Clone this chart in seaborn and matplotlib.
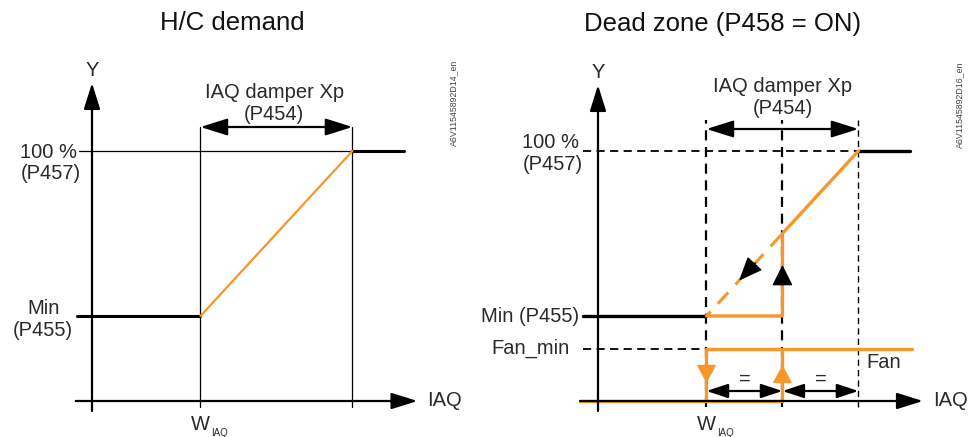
import numpy as np
import pandas as pd
import matplotlib
matplotlib.use("Agg")
import matplotlib.pyplot as plt
import seaborn as sns

# Control parameters: IAQ axis in relative units, output in %
W_IAQ = 1.0        # IAQ setpoint
XP = 1.4           # IAQ damper proportional band (P454)
Y_MIN = 34         # minimum damper position (P455)
Y_MAX = 100        # maximum damper position (P457)
FAN_MIN = 21       # fan minimum output
FAN_OFF = 0        # fan off

panel_titles = ["H/C demand", "Dead zone (P458 = ON)"]
doc_codes = ["A6V11545892D14_en", "A6V11545892D16_en"]
label_max = ["100 %", "(P457)"]
label_min = ["Min", "(P455)"]
label_xp = ["IAQ damper Xp", "(P454)"]

ORANGE = "#f7962b"
TXT = "#2a2a2a"
FS = 14.5

sns.set_theme(style="white")
plt.rcParams["font.family"] = ["Liberation Sans", "DejaVu Sans"]

fig = plt.figure(figsize=(9.79, 4.37), dpi=100)
axL = fig.add_axes([0, 0, 480 / 979, 1])
axR = fig.add_axes([480 / 979, 0, 499 / 979, 1])
UX, UY = 108.5, 2.5   # pixels per unit
axL.set_xlim(-92 / UX, (480 - 92) / UX)
axR.set_xlim(-118 / UX, (499 - 118) / UX)
for ax in (axL, axR):
    ax.set_ylim(-36 / UY, 401 / UY)
    ax.set_axis_off()


def arrow(ax, start, tip, color="black", hl=1.6, hw=0.5, lw=1.5, style="-|>", z=5):
    ax.annotate("", xy=tip, xytext=start, zorder=z,
                arrowprops=dict(arrowstyle=f"{style},head_length={hl},head_width={hw}",
                                color=color, lw=lw, shrinkA=0, shrinkB=0,
                                mutation_scale=10))


def line(ax, xs, ys, color="black", lw=1.0, ls="-", z=2):
    df = pd.DataFrame({"x": xs, "y": ys})
    sns.lineplot(data=df, x="x", y="y", ax=ax, color=color, lw=lw, ls=ls,
                 sort=False, estimator=None, zorder=z, legend=False)
    ax.set_xlabel("")
    ax.set_ylabel("")


def axes_frame(ax, x_start, x_tip, y_tip):
    arrow(ax, (0, -4), (0, y_tip), hl=1.6, hw=0.5, lw=1.6)
    arrow(ax, (x_start, 0), (x_tip, 0), hl=1.6, hw=0.5, lw=1.6)
    ax.text(0, y_tip + 5, "Y", ha="center", va="center", fontsize=FS, color=TXT)
    ax.text(x_tip + 0.09, 0, "IAQ", ha="left", va="center", fontsize=FS, color=TXT)
    ax.text(W_IAQ, -9.6, "W", ha="center", va="center", fontsize=FS, color=TXT)
    ax.text(W_IAQ + 0.1, -12.6, "IAQ", ha="left", va="center", fontsize=7, color=TXT)


X_END = W_IAQ + XP
X_MID = W_IAQ + XP / 2
Y_MID = Y_MIN + (Y_MAX - Y_MIN) / 2

# ---------------- H/C demand ----------------
ax = axL
ax.text(1.29, 151, panel_titles[0], ha="center", va="center", fontsize=18.5, color="#111111")
axes_frame(ax, -0.15, 3.0, 127.2)
for u in (W_IAQ, X_END):
    line(ax, [u, u], [-2.4, 109.6], lw=0.9)
line(ax, [-0.12, X_END], [Y_MAX, Y_MAX], lw=0.9)
line(ax, [-0.14, W_IAQ], [Y_MIN, Y_MIN], lw=2.2, z=3)
line(ax, [X_END, 2.876], [Y_MAX, Y_MAX], lw=2.2, z=3)
line(ax, [W_IAQ, X_END], [Y_MIN, Y_MAX], color=ORANGE, lw=1.6, z=4)
arrow(ax, (W_IAQ, 109.6), (X_END, 109.6), style="<|-|>", hl=1.65, hw=0.52, lw=1.6)
ax.text(X_MID - 0.02, 123.4, label_xp[0], ha="center", va="center", fontsize=FS, color=TXT)
ax.text(X_MID - 0.02, 114.6, label_xp[1], ha="center", va="center", fontsize=FS, color=TXT)
ax.text(-0.40, 99.2, label_max[0], ha="center", va="center", fontsize=FS, color=TXT)
ax.text(-0.38, 91.0, label_max[1], ha="center", va="center", fontsize=FS, color=TXT)
ax.text(-0.45, 36.8, label_min[0], ha="center", va="center", fontsize=FS, color=TXT)
ax.text(-0.45, 28.0, label_min[1], ha="center", va="center", fontsize=FS, color=TXT)
ax.text(3.336, 119.2, doc_codes[0], rotation=90, ha="center", va="center", fontsize=6.3, color="#444444")

# ---------------- Dead zone ----------------
ax = axR
ax.text(1.152, 151, panel_titles[1], ha="center", va="center", fontsize=18.5, color="#111111")
axes_frame(ax, -0.166, 2.995, 126.4)
dash = (0, (4.5, 3))
for u, w in ((W_IAQ, 1.6), (X_MID, 1.6), (X_END, 1.0)):
    line(ax, [u, u], [-2.4, 112.4], lw=w, ls=dash)
line(ax, [-0.14, X_END], [Y_MAX, Y_MAX], lw=1.3, ls=dash)
line(ax, [-0.14, W_IAQ], [FAN_MIN, FAN_MIN], lw=1.3, ls=dash)
line(ax, [-0.14, W_IAQ], [Y_MIN, Y_MIN], lw=2.4, z=3)
line(ax, [X_END, 2.876], [Y_MAX, Y_MAX], lw=2.4, z=3)

# damper with dead zone
line(ax, [W_IAQ, X_MID, X_MID, X_END], [Y_MIN, Y_MIN, Y_MID, Y_MAX], color=ORANGE, lw=2.4, z=4)
line(ax, [W_IAQ, X_MID], [Y_MIN, Y_MID], color=ORANGE, lw=2.2, ls=(3, (5, 3.5)), z=4)
# fan: off below the dead zone, on at FAN_MIN above it, with hysteresis
line(ax, [-0.166, X_MID, X_MID], [FAN_OFF, FAN_OFF, FAN_MIN], color=ORANGE, lw=2.4, z=4)
line(ax, [W_IAQ, W_IAQ, 2.894], [FAN_OFF, FAN_MIN, FAN_MIN], color=ORANGE, lw=2.4, z=4)

# direction arrows
arrow(ax, (W_IAQ, 14.0), (W_IAQ, 7.2), color=ORANGE, hl=1.15, hw=0.62, lw=1.0, z=6)
arrow(ax, (X_MID, 7.4), (X_MID, 14.4), color=ORANGE, hl=1.15, hw=0.62, lw=1.0, z=6)
arrow(ax, (X_MID, 46.4), (X_MID, 54.4), hl=1.3, hw=0.65, lw=1.0, z=6)
slope = (Y_MAX - Y_MIN) / XP
u_tip = 1.3
arrow(ax, (u_tip + 0.15, Y_MIN + (u_tip + 0.15 - W_IAQ) * slope),
      (u_tip, Y_MIN + (u_tip - W_IAQ) * slope), hl=1.5, hw=0.62, lw=1.0, z=6)

# spans
arrow(ax, (W_IAQ, 108.8), (X_END, 108.8), style="<|-|>", hl=1.65, hw=0.52, lw=1.6)
arrow(ax, (W_IAQ, 4.0), (X_MID, 4.0), style="<|-|>", hl=1.3, hw=0.43, lw=1.6)
arrow(ax, (X_MID, 4.0), (X_END, 4.0), style="<|-|>", hl=1.3, hw=0.43, lw=1.6)
ax.text((W_IAQ + X_MID) / 2, 8.8, "=", ha="center", va="center", fontsize=FS, color=TXT)
ax.text((X_MID + X_END) / 2, 8.8, "=", ha="center", va="center", fontsize=FS, color=TXT)

ax.text(X_MID, 125.6, label_xp[0], ha="center", va="center", fontsize=FS, color=TXT)
ax.text(X_MID, 117.2, label_xp[1], ha="center", va="center", fontsize=FS, color=TXT)
ax.text(-0.44, 103.2, label_max[0], ha="center", va="center", fontsize=FS, color=TXT)
ax.text(-0.42, 94.4, label_max[1], ha="center", va="center", fontsize=FS, color=TXT)
ax.text(-0.175, Y_MIN, " ".join(label_min), ha="right", va="center", fontsize=FS, color=TXT)
ax.text(-0.258, FAN_MIN, "Fan_min", ha="right", va="center", fontsize=FS, color=TXT)
ax.text(2.47, 15.2, "Fan", ha="left", va="center", fontsize=FS, color=TXT)
ax.text(3.336, 118.4, doc_codes[1], rotation=90, ha="center", va="center", fontsize=6.3, color="#444444")

fig.savefig("out.png", dpi=100)
